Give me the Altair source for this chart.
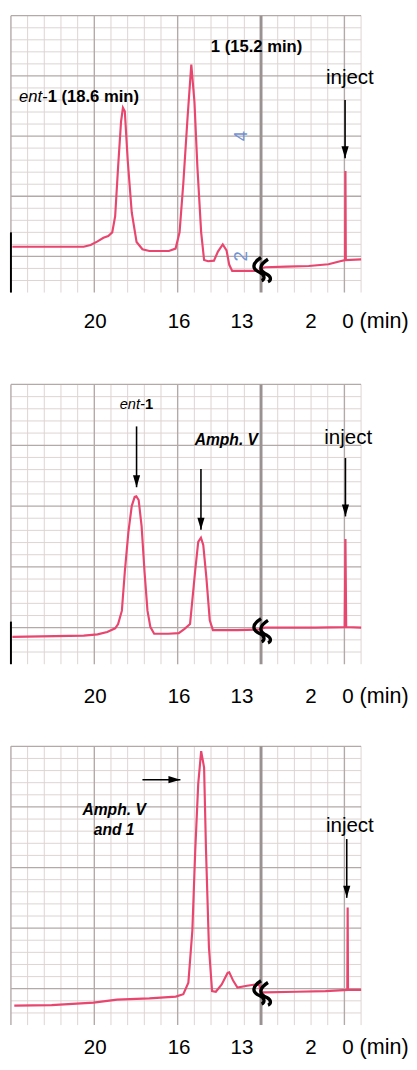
import altair as alt
import pandas as pd

# ---------------- data: retention time (min) and recorder signal (chart-paper units) ----------------
# Panel 1: synthetic racemate (ent-1 and 1)
P1_T = [23.83, 20.43, 20.10, 19.77, 19.49, 19.26, 19.07, 18.93, 18.79, 18.65, 18.56, 18.47, 18.33, 18.14,
        17.91, 17.63, 17.30, 16.37, 16.05, 15.86, 15.68, 15.48, 15.30, 15.15, 15.01, 14.83, 14.69, 14.50,
        14.22, 14.03, 13.80, 13.62, 13.49, 13.35, 12.24, 12.05,
        4.60, 4.35, 3.20, 1.99, 0.92, 0.29, 0.02, 0.00, -0.02, -0.85]
P1_V = [2.16, 2.16, 2.19, 2.25, 2.31, 2.34, 2.40, 2.67, 3.49, 4.24, 4.47, 4.41, 3.59, 2.73,
        2.24, 2.12, 2.09, 2.09, 2.13, 2.40, 3.22, 4.30, 5.19, 4.57, 3.49, 2.40, 1.94, 1.92,
        1.93, 2.08, 2.20, 2.10, 1.86, 1.76, 1.76, 1.76,
        1.80, 1.82, 1.83, 1.84, 1.87, 1.92, 1.94, 3.42, 1.94, 1.95]

# Panel 2: ent-1 co-injected with Amph. V
P2_T = [23.83, 20.43, 19.77, 19.31, 18.93, 18.79, 18.61, 18.47, 18.30, 18.14, 18.00, 17.92, 17.81, 17.67,
        17.53, 17.39, 17.25, 17.07, 16.40, 15.90, 15.62, 15.36, 15.12, 14.97, 14.84, 14.73, 14.58, 14.42,
        14.27, 13.10, 12.05,
        4.60, 4.37, 1.63, 0.04, 0.00, -0.04, -0.85]
P2_V = [1.85, 1.87, 1.89, 1.93, 1.99, 2.06, 2.28, 2.92, 3.57, 4.00, 4.15, 4.16, 4.10, 3.67,
        2.92, 2.28, 2.01, 1.90, 1.90, 1.91, 1.98, 2.06, 2.92, 3.41, 3.48, 3.36, 2.82, 2.12,
        1.96, 1.96, 1.97,
        1.98, 2.00, 2.00, 2.01, 3.46, 2.01, 2.00]

# Panel 3: Amph. V co-injected with 1
P3_T = [23.74, 21.96, 19.96, 18.84, 17.30, 16.04, 15.68, 15.44, 15.25, 15.11, 14.97, 14.83, 14.69, 14.60,
        14.46, 14.31, 14.13, 13.85, 13.57, 13.49, 13.30, 13.10, 12.64, 12.26, 12.05,
        4.60, 4.37, 2.67, 1.08, -0.10, -0.12, -0.14, -0.85]
P3_V = [1.72, 1.73, 1.77, 1.82, 1.84, 1.87, 1.91, 2.10, 2.96, 4.30, 5.38, 5.92, 5.65, 4.30,
        2.69, 1.96, 1.95, 2.07, 2.26, 2.27, 2.13, 2.02, 2.05, 2.07, 2.06,
        1.94, 1.94, 1.95, 1.96, 1.98, 3.34, 1.98, 1.98]

X_TICKS = [20, 16, 13, 2, 0]
AXIS_TITLE = "(min)"

# chart-paper numbers printed in blue (panel 1)
BLUE_TEXT = ["4", "2"]
BLUE_V = [4.0, 2.0]
BLUE_T = 12.92

# axis-break marks (signal level at the break, per panel)
BREAK_V = [1.79, 1.96, 1.94]
# black stub of the left axis (top value per panel, None = none)
STUB_TOP = [2.4, 2.1, None]

# annotations
ANN_PANEL = [1, 1, 1, 1, 2, 2, 2, 2, 3, 3, 3]
ANN_TEXT = ["ent-", "1 (18.6 min)", "1 (15.2 min)", "inject",
            "ent-", "1", "Amph. V", "inject",
            "Amph. V", "and 1", "inject"]
ANN_STYLE = ["i", "b", "b", "n", "i", "b", "bi", "n", "bi", "bi", "n"]
ANN_ALIGN = ["right", "left", "center", "center", "right", "left", "center", "center",
             "center", "center", "center"]
ANN_SIZE = [17, 17, 17, 21, 15, 15, 16, 21, 16, 16, 21]
ANN_T = [22.15, 22.15, 12.19, -0.24, 17.51, 17.51, 13.63, -0.15, 18.98, 18.98, -0.24]
ANN_V = [4.65, 4.65, 5.48, 4.96, 5.68, 5.68, 5.09, 5.11, 4.95, 4.61, 4.69]

# arrows (tail t1,v1 -> tip t2,v2)
ARR_PANEL = [1, 2, 2, 2, 3, 3]
ARR_T1 = [0.02, 17.91, 14.84, 0.00, 17.63, -0.07]
ARR_V1 = [4.60, 5.31, 4.61, 4.79, 5.45, 4.47]
ARR_T2 = [0.02, 17.91, 14.84, 0.00, 15.82, -0.07]
ARR_V2 = [3.63, 4.31, 3.61, 3.83, 5.45, 3.50]

# ---------------- styling ----------------
FONT = "Liberation Sans"
RED = "#e8466f"
MINOR = "#ddd3d3"
MAJOR = "#b4a9a9"
BREAKLINE = "#9a9191"
BLUE = "#7193d4"
HEAD = "M -0.3 -1 L 0.3 -1 L 0 0 Z"
BREAK_SHAPE = ("M 0 -1 C -0.8 -0.5 -0.8 0 -0.1 0.3 C 0.4 0.55 0.3 0.9 0.05 1 "
               "M 0.6 -0.85 C -0.2 -0.35 -0.2 0.15 0.5 0.45 C 0.95 0.7 0.85 1.0 0.6 1.1")

D_LEFT, D_RIGHT = 23.9, 7.205
GRID_STEP = 0.795


def to_d(t):
    """Broken time axis: 24-12 min at full scale, 4.6 to -0.8 min compressed after the break."""
    return t if t >= 8 else 7.95 + 0.88 * t


XSCALE = alt.Scale(domain=[D_LEFT, D_RIGHT], nice=False, zero=False)
YSCALE = alt.Scale(domain=[1.4, 6.0], nice=False, zero=False)


def make_axis(label_off):
    return alt.Axis(
        values=[to_d(t) for t in X_TICKS],
        labelExpr="datum.value >= 12.5 ? format(datum.value, '.0f') : format((datum.value - 7.95) / 0.88, '.0f')",
        domain=False, ticks=False, tickSize=0, grid=False,
        labelFont=FONT, labelFontSize=21, labelColor="black",
        labelBaseline="alphabetic", labelPadding=label_off, labelOffset=2,
        labelFlush=False, labelOverlap=False, labelBound=False,
        title=AXIS_TITLE, titleFont=FONT, titleFontSize=22, titleFontWeight="normal",
        titleColor="black", titleAlign="left", titleBaseline="alphabetic",
        titleX=356, titleY=label_off, titleAngle=0,
    )


def panel(idx, ts, vs, height, label_off):
    ax = make_axis(label_off)

    def X(f):
        return alt.X(f, type="quantitative", scale=XSCALE, axis=ax)

    def Y(f):
        return alt.Y(f, type="quantitative", scale=YSCALE, axis=None)

    layers = []
    # paper grid
    hg = alt.Chart(alt.sequence(1, 24, as_="j")).transform_calculate(
        v="1.4 + 0.2 * datum.j", major="datum.j % 5 == 3")
    layers.append(hg.transform_filter("!datum.major").mark_rule(color=MINOR, strokeWidth=1).encode(y=Y("v")))
    vg = alt.Chart(alt.sequence(0, 22, as_="k")).transform_calculate(
        d=f"{D_LEFT} - {GRID_STEP} * datum.k", major="datum.k % 5 == 0")
    layers.append(vg.transform_filter("!datum.major").mark_rule(color=MINOR, strokeWidth=1).encode(x=X("d")))
    layers.append(hg.transform_filter("datum.major").mark_rule(color=MAJOR, strokeWidth=1.3).encode(y=Y("v")))
    layers.append(vg.transform_filter("datum.major && datum.k != 15").mark_rule(color=MAJOR, strokeWidth=1.4).encode(x=X("d")))
    layers.append(vg.transform_filter("datum.k == 15").mark_rule(color=BREAKLINE, strokeWidth=3).encode(x=X("d")))

    if STUB_TOP[idx] is not None:
        stub = pd.DataFrame({"d": [D_LEFT], "v1": [1.4], "v2": [STUB_TOP[idx]]})
        layers.append(alt.Chart(stub).mark_rule(color="black", strokeWidth=2).encode(
            x=X("d"), y=Y("v1"), y2="v2"))

    if idx == 0:
        bd = pd.DataFrame({"d": [to_d(BLUE_T)] * len(BLUE_TEXT), "v": BLUE_V, "s": BLUE_TEXT})
        layers.append(alt.Chart(bd).mark_text(font=FONT, fontSize=19, color=BLUE, angle=270,
                                              baseline="middle").encode(
            x=X("d"), y=Y("v"), text="s:N"))

    df = pd.DataFrame({"t": ts, "v": vs})
    df["d"] = df["t"].map(to_d)
    df["i"] = range(len(df))
    layers.append(alt.Chart(df).mark_line(color=RED, strokeWidth=2.2).encode(
        x=X("d"), y=Y("v"), order="i:Q"))

    br = pd.DataFrame({"d": [D_LEFT - 15 * GRID_STEP], "v": [BREAK_V[idx]]})
    layers.append(alt.Chart(br).mark_point(shape=BREAK_SHAPE, filled=False, color="black",
                                           strokeWidth=3.4, size=560, opacity=1).encode(
        x=X("d"), y=Y("v")))

    arr = pd.DataFrame({"p": ARR_PANEL, "t1": ARR_T1, "v1": ARR_V1, "t2": ARR_T2, "v2": ARR_V2})
    arr = arr[arr.p == idx + 1].copy()
    arr["d1"] = arr["t1"].map(to_d)
    arr["d2"] = arr["t2"].map(to_d)
    arr["a"] = [0 if abs(a - b) < 1e-9 else 270 for a, b in zip(arr.d1, arr.d2)]
    layers.append(alt.Chart(arr).mark_rule(color="black", strokeWidth=1.6).encode(
        x=X("d1"), y=Y("v1"), x2="d2", y2="v2"))
    layers.append(alt.Chart(arr).mark_point(shape=HEAD, filled=True, color="black", size=600,
                                            opacity=1).encode(
        x=X("d2"), y=Y("v2"), angle=alt.Angle("a:Q", scale=None)))

    for p, txt, sty, al, sz, t, v in zip(ANN_PANEL, ANN_TEXT, ANN_STYLE, ANN_ALIGN, ANN_SIZE, ANN_T, ANN_V):
        if p != idx + 1:
            continue
        row = pd.DataFrame({"d": [to_d(t)], "v": [v], "s": [txt]})
        layers.append(alt.Chart(row).mark_text(
            font=FONT, fontSize=sz, color="black", align=al, baseline="middle",
            fontStyle="italic" if "i" in sty else "normal",
            fontWeight="bold" if "b" in sty else "normal",
        ).encode(x=X("d"), y=Y("v"), text="s:N"))

    return alt.layer(*layers).properties(width=358, height=height)


p1 = panel(0, P1_T, P1_V, 283, 36)
p2 = panel(1, P2_T, P2_V, 286, 39)
p3 = panel(2, P3_T, P3_V, 285, 29)

chart = alt.vconcat(p1, alt.vconcat(p2, p3, spacing=39), spacing=52).properties(
    padding={"left": 0, "top": -6, "right": 0, "bottom": 0},
    background="white",
).configure_view(stroke=None)

chart.save("out.html", embed_options={"renderer": "svg", "actions": False})
